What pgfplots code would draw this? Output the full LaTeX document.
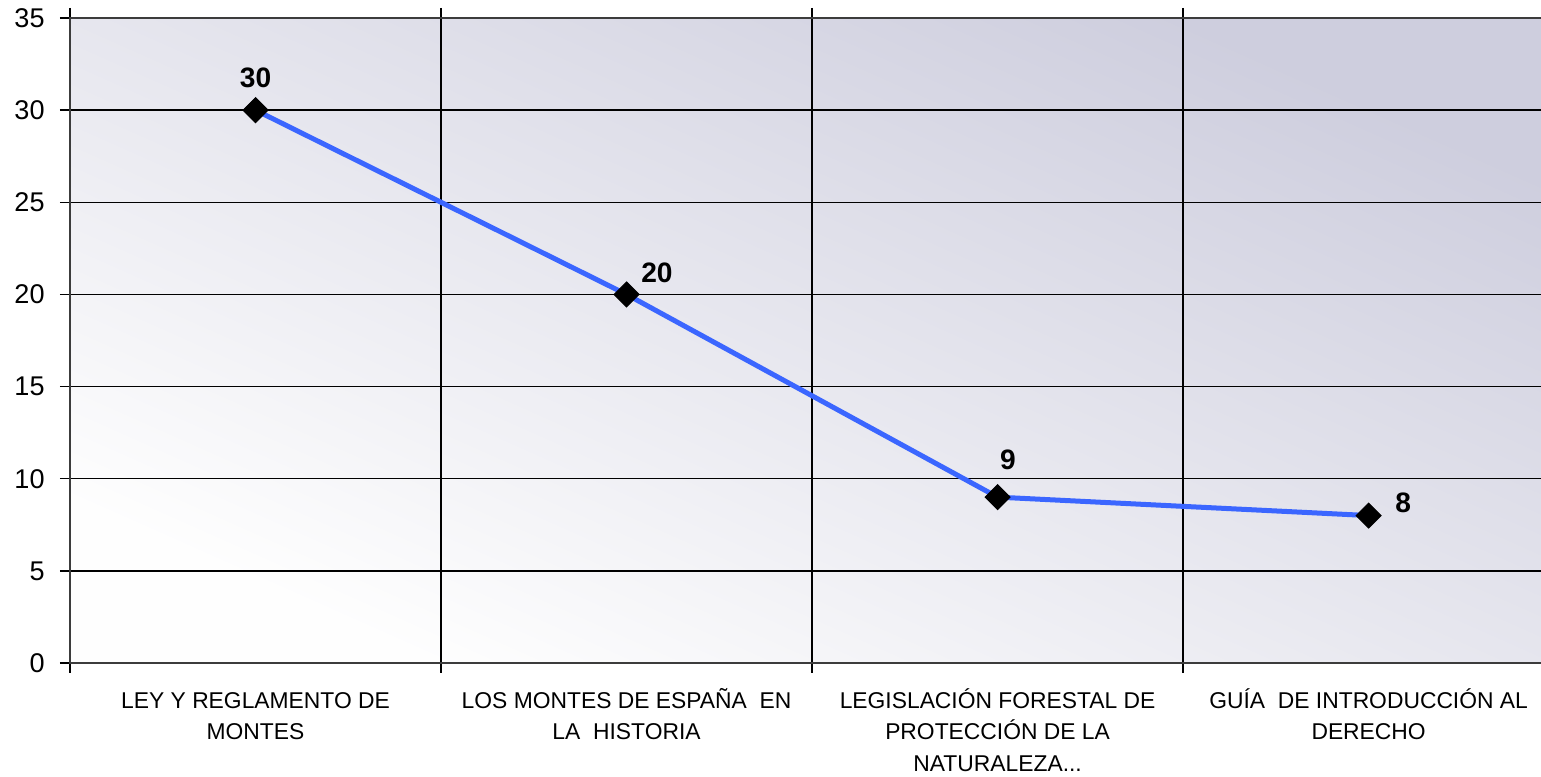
\documentclass[border=0pt]{standalone}
\usepackage{pgfplots}
\pgfplotsset{compat=1.18}
\usepackage{fontspec}
\setmainfont{Liberation Sans}
\definecolor{linecol}{RGB}{59,102,255}
\definecolor{axcol}{RGB}{60,60,60}
\definecolor{bgtr}{RGB}{206,206,222}
\definecolor{bgbl}{RGB}{254,254,254}
\newcommand{\fl}{\rule{0pt}{7pt}}
\begin{document}
\begin{tikzpicture}
\useasboundingbox (-7mm,-11.4mm) rectangle (147.1mm,66.3mm);
\begin{axis}[
  at={(0,0)}, anchor=south west,
  scale only axis,
  width=147.3mm, height=64.5mm,
  xmin=0, xmax=3.970, ymin=0, ymax=35,
  axis background/.style={shade, top color=bgtr, bottom color=bgbl, shading angle=-24},
  axis line style={axcol, line width=0.28mm},
  ytick={0,5,...,35},
  ymajorgrids, major grid style={black, line width=0.13mm},
  minor grid style={black, line width=0.13mm},
  xtick={0.5,1.5,2.5,3.5},
  xticklabels={{\fl LEY Y REGLAMENTO DE\\MONTES},{\fl LOS MONTES DE ESPAÑA\ \ EN\\LA\ \ HISTORIA},{\fl LEGISLACIÓN FORESTAL DE\\PROTECCIÓN DE LA\\NATURALEZA{.}{.}{.}},{\fl GUÍA\ \ DE INTRODUCCIÓN AL\\DERECHO}},
  minor xtick={0,1,2,3},
  xminorgrids,
  tick align=outside,
  major tick length=1mm,
  minor tick length=1mm,
  x tick style={draw=none},
  minor x tick style={draw=black, line width=0.13mm},
  y tick style={black, line width=0.13mm},
  xticklabel style={align=center, font=\fontsize{6.5pt}{9.1pt}\selectfont, yshift=0.2mm},
  yticklabel style={font=\fontsize{7.7pt}{8pt}\selectfont, xshift=-0.3mm},
  /pgf/number format/assume math mode=true,
  clip=false,
]
\addplot[linecol, line width=0.5mm, mark=square*, mark size=0.88mm, mark options={black, fill=black, line width=0.1mm, rotate=45}]
  coordinates {(0.5,30) (1.5,20) (2.5,9) (3.5,8)};
\begin{scope}[font=\fontsize{8pt}{9pt}\selectfont\bfseries]
\node at (axis cs:0.5,31.75) {30};
\node at (axis cs:1.582,21.16) {20};
\node at (axis cs:2.528,11.02) {9};
\node at (axis cs:3.593,8.7) {8};
\end{scope}
\end{axis}
\end{tikzpicture}
\end{document}
